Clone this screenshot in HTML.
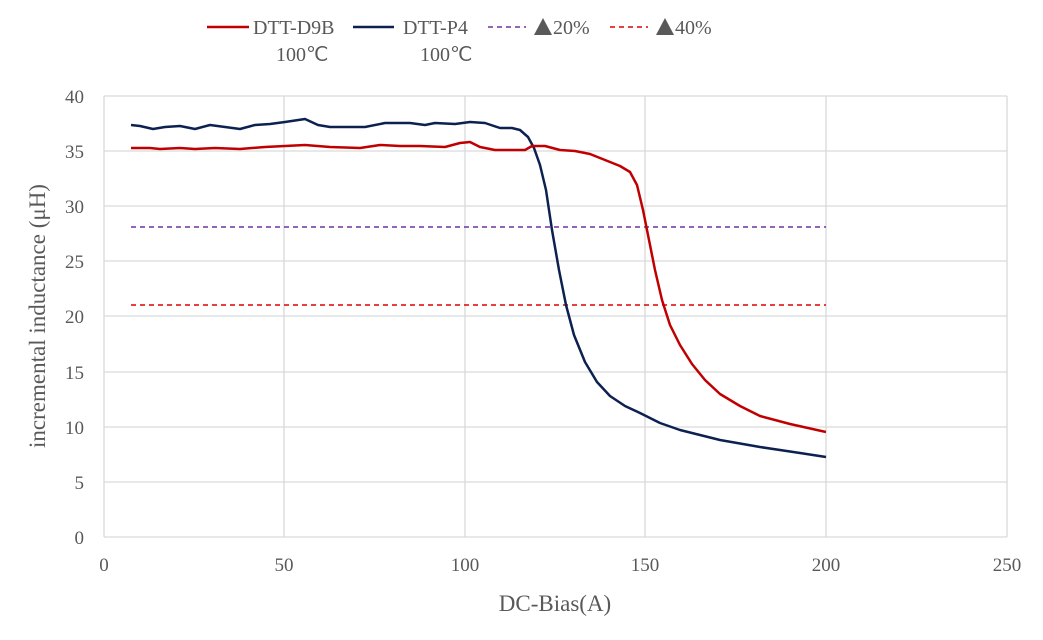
<!DOCTYPE html>
<html><head><style>
body{margin:0;background:#fff;}
svg text{font-family:"Liberation Serif",serif;fill:#595959;}
</style></head><body>
<svg width="1043" height="635" xmlns="http://www.w3.org/2000/svg">
<g stroke="#d9d9d9" stroke-width="1.3">
<line x1="104" y1="96" x2="1007" y2="96"/><line x1="104" y1="151" x2="1007" y2="151"/>
<line x1="104" y1="206" x2="1007" y2="206"/><line x1="104" y1="261" x2="1007" y2="261"/>
<line x1="104" y1="316" x2="1007" y2="316"/><line x1="104" y1="372" x2="1007" y2="372"/>
<line x1="104" y1="427" x2="1007" y2="427"/><line x1="104" y1="482" x2="1007" y2="482"/>
<line x1="104" y1="537" x2="1007" y2="537"/>
<line x1="104" y1="96" x2="104" y2="537"/><line x1="284" y1="96" x2="284" y2="537"/>
<line x1="465" y1="96" x2="465" y2="537"/><line x1="645" y1="96" x2="645" y2="537"/>
<line x1="826" y1="96" x2="826" y2="537"/><line x1="1007" y1="96" x2="1007" y2="537"/>
</g>
<g font-size="19" text-anchor="end">
<text x="84" y="103">40</text><text x="84" y="158">35</text><text x="84" y="213">30</text>
<text x="84" y="268">25</text><text x="84" y="323">20</text><text x="84" y="379">15</text>
<text x="84" y="434">10</text><text x="84" y="489">5</text><text x="84" y="544">0</text>
</g>
<g font-size="19" text-anchor="middle">
<text x="104" y="571">0</text><text x="284" y="571">50</text><text x="465" y="571">100</text>
<text x="645" y="571">150</text><text x="826" y="571">200</text><text x="1007" y="571">250</text>
</g>
<text x="555" y="611" font-size="23" text-anchor="middle">DC-Bias(A)</text>
<text transform="translate(45,316) rotate(-90)" font-size="23" text-anchor="middle">incremental inductance (μH)</text>
<line x1="131" y1="227" x2="826" y2="227" stroke="#7030a0" stroke-width="1.5" stroke-dasharray="5,4"/>
<line x1="131" y1="305" x2="826" y2="305" stroke="#e00000" stroke-width="1.5" stroke-dasharray="5,4"/>
<path fill="none" stroke="#0d2150" stroke-width="2.5" stroke-linejoin="round" d="M131,125 L140,126 L153,129 L165,127 L180,126 L195,129 L210,125 L225,127 L240,129 L255,125 L270,124 L285,122 L305,119 L318,125 L330,127 L345,127 L365,127 L385,123 L410,123 L425,125 L435,123 L455,124 L470,122 L485,123 L500,128 L512,128 L520,130 L528,137 L534,148 L540,165 L546,190 L552,230 L559,270 L566,305 L574,335 L585,362 L597,382 L610,396 L625,406 L640,413 L660,423 L680,430 L720,440 L760,447 L800,453 L826,457"/>
<path fill="none" stroke="#c00000" stroke-width="2.5" stroke-linejoin="round" d="M131,148 L150,148 L160,149 L180,148 L195,149 L215,148 L240,149 L265,147 L285,146 L305,145 L330,147 L360,148 L380,145 L400,146 L420,146 L445,147 L460,143 L470,142 L480,147 L495,150 L525,150 L532,146 L545,146 L560,150 L575,151 L590,154 L605,160 L620,166 L630,172 L637,185 L643,210 L649,240 L655,270 L662,300 L670,325 L680,345 L692,364 L705,380 L720,394 L740,406 L760,416 L790,424 L826,432"/>
<line x1="207" y1="27" x2="249" y2="27" stroke="#c00000" stroke-width="2.5"/>
<text x="253" y="34" font-size="20">DTT-D9B</text>
<text x="276" y="61" font-size="20">100℃</text>
<line x1="353" y1="27" x2="394" y2="27" stroke="#0d2150" stroke-width="2.5"/>
<text x="403" y="34" font-size="20">DTT-P4</text>
<text x="420" y="61" font-size="20">100℃</text>
<line x1="488" y1="27" x2="526" y2="27" stroke="#7030a0" stroke-width="1.5" stroke-dasharray="5,4"/>
<polygon points="534,35 543,18 552,35" fill="#595959"/>
<text x="553" y="34" font-size="20">20%</text>
<line x1="610" y1="27" x2="648" y2="27" stroke="#e00000" stroke-width="1.5" stroke-dasharray="5,4"/>
<polygon points="656,35 665,18 674,35" fill="#595959"/>
<text x="675" y="34" font-size="20">40%</text>
</svg>
</body></html>
